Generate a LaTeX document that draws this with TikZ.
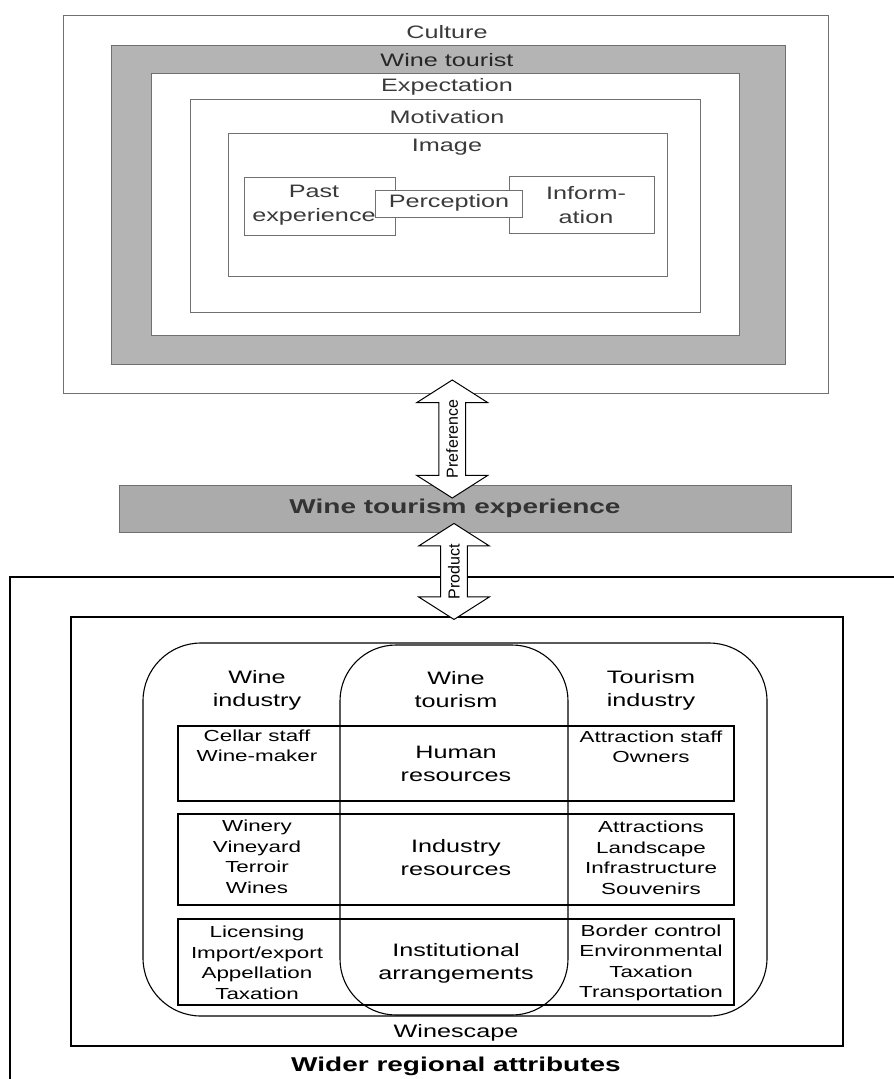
\documentclass[tikz,border=0pt]{standalone}
\usepackage{fontspec}
\setmainfont{Liberation Sans}[FakeStretch=1.4]
\newfontfamily\plainsans{Liberation Sans}
\usetikzlibrary{shapes.arrows,calc}

\definecolor{bandgray}{HTML}{B4B4B4}
\definecolor{edgegray}{HTML}{707070}
\definecolor{inkgray}{HTML}{3A3A3A}

\begin{document}
\begin{tikzpicture}[x=1pt,y=-1pt,
    topbox/.style={draw=edgegray,line width=1pt},
    toplabel/.style={font=\fontsize{18}{24}\selectfont,text=inkgray,align=center,inner sep=0pt},
    frame/.style={draw,line width=1.2pt},
    head/.style={font=\fontsize{18}{23}\selectfont,align=center,inner sep=0pt},
    item/.style={font=\fontsize{16}{20.5}\selectfont,align=center,inner sep=0pt},
    boldlab/.style={font=\fontsize{20}{24}\selectfont\bfseries,inner sep=0pt},
    twoway/.style={double arrow,draw,line width=1pt,fill=white,rotate=90,
        double arrow head extend=22pt,double arrow tip angle=115,
        inner xsep=0pt,inner ysep=7pt,font=\plainsans\fontsize{16}{18}\selectfont}]
  \useasboundingbox (0,0) rectangle (894,1079);

  % tourist side
  \node[topbox,inner sep=0pt,minimum width=765pt,minimum height=378pt] (culture) at (445.5,204) {};
  \draw[topbox,fill=bandgray] (111,45) rectangle (785,364);
  \draw[topbox,fill=white] (151,73) rectangle (739,335);
  \draw[topbox] (190,99) rectangle (700,312);
  \draw[topbox] (228,133) rectangle (667,276);
  \draw[topbox] (244,177) rectangle (395,235);
  \draw[topbox] (509,176) rectangle (654,233);
  \draw[topbox,fill=white] (375,190) rectangle (522,217);
  \node[toplabel] (culturelab) at (447,32) {Culture};
  \node[toplabel,text=black!85] (touristlab) at (447,60) {Wine tourist};
  \node[toplabel] (expectlab) at (447,87) {Expectation};
  \node[toplabel] (motivlab) at (447,117) {Motivation};
  \node[toplabel] (imagelab) at (447,147) {Image};
  \node[toplabel] (pastlab) at (314,205) {Past\\experience};
  \node[toplabel] (perceplab) at (449,203) {Perception};
  \node[toplabel] (infolab) at (586,205) {Inform-\\ation};

  % experience bar
  \node[draw=edgegray,line width=1pt,fill=bandgray!95!black,minimum width=672pt,minimum height=47pt,
        boldlab,text=black!80] (wte) at (455,508.5) {Wine tourism experience};

  % region side
  \draw[frame] (10,1079) -- (10,577) -- (894,577);
  \node[frame,inner sep=0pt,minimum width=772pt,minimum height=429pt] (winescape) at (457,831.5) {};
  \draw[line width=1.1pt,rounded corners=58pt] (143,643) rectangle (767,1016);
  \draw[line width=1.1pt,rounded corners=56pt] (340,645) rectangle (568,1015);
  \foreach \ya/\yb in {726/801,814/905,919/1005}
    \draw[line width=1.1pt] (178,\ya) rectangle (734,\yb);

  \node[head] (wineind) at (257,690) {Wine\\industry};
  \node[head] (winetour) at (456,690) {Wine\\tourism};
  \node[head] (tourind) at (651,690) {Tourism\\industry};

  \node[item] (humanl) at (257,746) {Cellar staff\\Wine-maker};
  \node[head] (humanc) at (456,764) {Human\\resources};
  \node[item] (humanr) at (651,747) {Attraction staff\\Owners};

  \node[item] (indl) at (257,857) {Winery\\Vineyard\\Terroir\\Wines};
  \node[head] (indc) at (456,858) {Industry\\resources};
  \node[item] (indr) at (651,858) {Attractions\\Landscape\\Infrastructure\\Souvenirs};

  \node[item] (instl) at (257,963) {Licensing\\Import/export\\Appellation\\Taxation};
  \node[head] (instc) at (456,963) {Institutional\\arrangements};
  \node[item] (instr) at (651,963) {Border control\\Environmental\\Taxation\\Transportation};

  \node[head] (winescapelab) at (456,1033) {Winescape};
  \node[boldlab] (widerlab) at (456,1066) {Wider regional attributes};

  % links
  \node[twoway,minimum height=118pt] (pref) at ($(culture.south)!0.5!(wte.north)+(2,0)$) {Preference};
  \node[twoway,minimum height=96pt] (prod) at ($(wte.south)!0.5!(winescape.north)+(-2,-3)$) {Product};
\end{tikzpicture}
\end{document}
